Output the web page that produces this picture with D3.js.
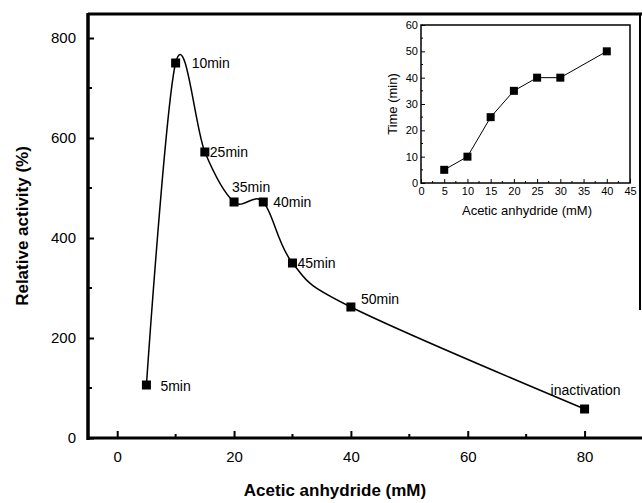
<!DOCTYPE html>
<html>
<head>
<meta charset="utf-8">
<script src="https://cdn.jsdelivr.net/npm/d3@7"></script>
<style>
  body { margin: 0; background: #fff; }
  svg { display: block; font-family: Arial, "Liberation Sans", sans-serif; }
</style>
</head>
<body>
<svg id="chart" width="642" height="503"></svg>
<script>
// main curve: relative activity vs acetic anhydride
const conc = [5, 10, 15, 20, 25, 30, 40, 80];
const activity = [106, 750, 572, 472, 472, 350, 262, 58];
const pointLabels = ["5min", "10min", "25min", "35min", "40min", "45min", "50min", "inactivation"];
const xTicks = [0, 20, 40, 60, 80];
const yTicks = [0, 200, 400, 600, 800];

// inset: time vs acetic anhydride
const insetConc = [5, 10, 15, 20, 25, 30, 40];
const insetTime = [5, 10, 25, 35, 40, 40, 50];
const insetXTicks = [0, 5, 10, 15, 20, 25, 30, 35, 40, 45];
const insetYTicks = [0, 10, 20, 30, 40, 50, 60];

const svg = d3.select("#chart");

const x = d3.scaleLinear().domain([-5, 90]).range([88, 643]);
const y = d3.scaleLinear().domain([0, 848]).range([438, 14]);

const pts = conc.map((c, i) => ({x: c, y: activity[i], label: pointLabels[i]}));

// frame: top line, partial right edge
svg.append("line")
  .attr("x1", 88).attr("x2", 642).attr("y1", 14).attr("y2", 14)
  .attr("stroke", "#000").attr("stroke-width", 3);
svg.append("line")
  .attr("x1", 640).attr("x2", 640).attr("y1", 14).attr("y2", 310)
  .attr("stroke", "#000").attr("stroke-width", 2);

// bottom axis
const xAxis = svg.append("g")
  .attr("transform", "translate(0,438)")
  .call(d3.axisBottom(x).tickValues(xTicks).tickSize(-7).tickPadding(13).tickFormat(d3.format("d")));
xAxis.select(".domain").remove();
xAxis.selectAll(".tick line").attr("stroke-width", 2);
xAxis.selectAll("text").attr("font-size", "15px").attr("fill", "#000");
svg.append("g")
  .attr("transform", "translate(0,438)")
  .selectAll("line")
  .data([10, 30, 50, 70])
  .enter().append("line")
  .attr("x1", d => x(d)).attr("x2", d => x(d))
  .attr("y1", 0).attr("y2", -4)
  .attr("stroke", "#000").attr("stroke-width", 2);
svg.append("line")
  .attr("x1", 88).attr("x2", 642).attr("y1", 438).attr("y2", 438)
  .attr("stroke", "#000").attr("stroke-width", 3);

// left axis
const yAxis = svg.append("g")
  .attr("transform", "translate(88,0)")
  .call(d3.axisLeft(y).tickValues(yTicks).tickSize(-6).tickPadding(12));
yAxis.select(".domain").remove();
yAxis.selectAll(".tick line").attr("stroke-width", 2);
yAxis.selectAll("text").attr("font-size", "15px").attr("fill", "#000");
svg.append("g")
  .attr("transform", "translate(88,0)")
  .selectAll("line")
  .data([100, 300, 500, 700])
  .enter().append("line")
  .attr("x1", 0).attr("x2", 4)
  .attr("y1", d => y(d)).attr("y2", d => y(d))
  .attr("stroke", "#000").attr("stroke-width", 2);
svg.append("line")
  .attr("x1", 88).attr("x2", 88).attr("y1", 13).attr("y2", 440)
  .attr("stroke", "#000").attr("stroke-width", 3.5);

// axis titles
svg.append("text")
  .attr("x", 335).attr("y", 496)
  .attr("text-anchor", "middle")
  .attr("font-size", "17px").attr("font-weight", "bold")
  .text("Acetic anhydride (mM)");
svg.append("text")
  .attr("transform", "translate(28,226) rotate(-90)")
  .attr("text-anchor", "middle")
  .attr("font-size", "17px").attr("font-weight", "bold")
  .text("Relative activity (%)");

// smooth curve through the points
const line = d3.line()
  .x(d => x(d.x))
  .y(d => y(d.y))
  .curve(d3.curveCatmullRom.alpha(0));
svg.append("path")
  .attr("d", line(pts))
  .attr("fill", "none")
  .attr("stroke", "#000")
  .attr("stroke-width", 1.5);

svg.selectAll("rect.pt")
  .data(pts)
  .enter().append("rect")
  .attr("class", "pt")
  .attr("x", d => x(d.x) - 4.5).attr("y", d => y(d.y) - 4.5)
  .attr("width", 9).attr("height", 9)
  .attr("fill", "#000");

// point labels (offsets in px)
const labelOff = [[14, 6], [16, 5], [5, 5], [-2, -10], [10, 5], [5, 5], [10, -3], [-34, -14]];
svg.selectAll("text.pl")
  .data(pts)
  .enter().append("text")
  .attr("class", "pl")
  .attr("x", (d, i) => x(d.x) + labelOff[i][0])
  .attr("y", (d, i) => y(d.y) + labelOff[i][1])
  .attr("font-size", "14px")
  .text(d => d.label);

// ---- inset ----
const ix = d3.scaleLinear().domain([0, 45]).range([421, 630]);
const iy = d3.scaleLinear().domain([0, 60]).range([183, 25]);
const inset = svg.append("g");

inset.append("rect")
  .attr("x", 421).attr("y", 25).attr("width", 209).attr("height", 158)
  .attr("fill", "none").attr("stroke", "#000").attr("stroke-width", 1.5);

const ixAxis = inset.append("g")
  .attr("transform", "translate(0,183)")
  .call(d3.axisBottom(ix).tickValues(insetXTicks).tickSize(-4).tickPadding(4));
ixAxis.select(".domain").remove();
ixAxis.selectAll("text").attr("font-size", "11px").attr("fill", "#000");
inset.append("g")
  .attr("transform", "translate(0,183)")
  .selectAll("line")
  .data(d3.range(2.5, 45, 5))
  .enter().append("line")
  .attr("x1", d => ix(d)).attr("x2", d => ix(d))
  .attr("y1", 0).attr("y2", -2)
  .attr("stroke", "#000");

const iyAxis = inset.append("g")
  .attr("transform", "translate(421,0)")
  .call(d3.axisLeft(iy).tickValues(insetYTicks).tickSize(-4).tickPadding(3));
iyAxis.select(".domain").remove();
iyAxis.selectAll("text").attr("font-size", "11px").attr("fill", "#000");
inset.append("g")
  .attr("transform", "translate(421,0)")
  .selectAll("line")
  .data(d3.range(5, 60, 10))
  .enter().append("line")
  .attr("x1", 0).attr("x2", 2)
  .attr("y1", d => iy(d)).attr("y2", d => iy(d))
  .attr("stroke", "#000");

inset.append("text")
  .attr("x", 527).attr("y", 215)
  .attr("text-anchor", "middle")
  .attr("font-size", "13px")
  .text("Acetic anhydride (mM)");
inset.append("text")
  .attr("transform", "translate(397,104) rotate(-90)")
  .attr("text-anchor", "middle")
  .attr("font-size", "13px")
  .text("Time (min)");

const ipts = insetConc.map((c, i) => ({x: c, y: insetTime[i]}));
inset.append("path")
  .attr("d", d3.line().x(d => ix(d.x)).y(d => iy(d.y))(ipts))
  .attr("fill", "none").attr("stroke", "#000").attr("stroke-width", 1);
inset.selectAll("rect.ipt")
  .data(ipts)
  .enter().append("rect")
  .attr("class", "ipt")
  .attr("x", d => ix(d.x) - 4).attr("y", d => iy(d.y) - 4)
  .attr("width", 8).attr("height", 8)
  .attr("fill", "#000");
</script>
</body>
</html>
